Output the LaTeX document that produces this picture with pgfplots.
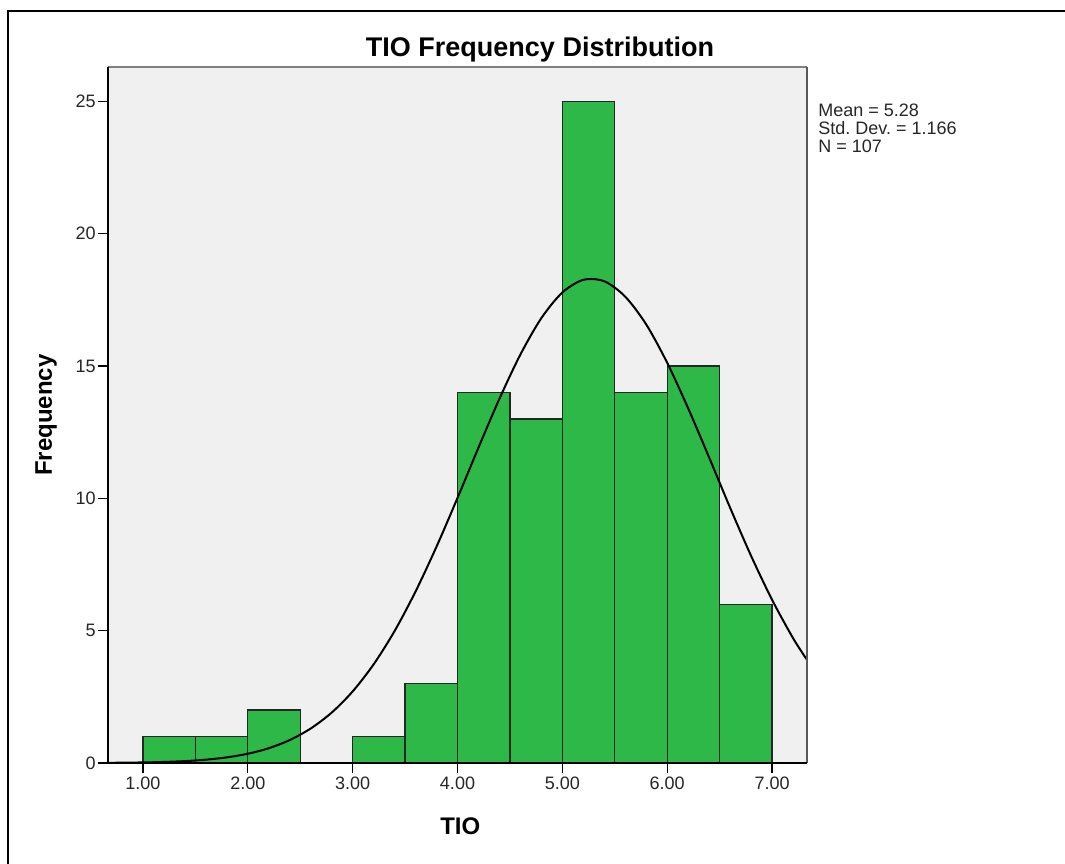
\documentclass[border=0pt]{standalone}
\usepackage{fontspec}
\setmainfont{Liberation Sans}
\usepackage{pgfplots}
\pgfplotsset{compat=1.18}
\definecolor{barfill}{RGB}{46,184,72}
\definecolor{plotbg}{RGB}{240,240,240}
\frenchspacing

\begin{document}
\begin{tikzpicture}
% page = 1065 x 863 px, 1 px = 0.5 pt
\useasboundingbox (0,0) rectangle (532.5pt,-431.5pt);
\draw[line width=1pt] (4pt,-432pt) -- (4pt,-5.5pt) -- (533pt,-5.5pt);
\begin{axis}[
  at={(54pt,-381.5pt)},anchor=south west,
  scale only axis,width=349.5pt,height=348pt,
  xmin=0.667,xmax=7.333,ymin=0,ymax=26.3,
  axis background/.style={fill=plotbg},
  axis line style={draw=none},
  clip=false,
  xtick={1,2,...,7},ytick={0,5,...,25},
  xtick pos=bottom,ytick pos=left,
  tick align=outside,major tick length=5pt,
  tick style={black,line width=0.7pt},
  xticklabel={\pgfmathprintnumber[fixed,fixed zerofill,precision=2]{\tick}},
  /pgf/number format/assume math mode=true,
  tick label style={font=\fontsize{9}{10}\selectfont,text=black!85},
  xticklabel style={inner sep=1pt,yshift=-1pt},
  yticklabel style={inner sep=1pt},
  every axis title shift=0pt,
  title={TIO Frequency Distribution},
  title style={font=\bfseries\fontsize{13.5}{15}\selectfont,
    at={(axis description cs:0.618,1.0144)},anchor=base},
  xlabel={TIO},
  xlabel style={font=\bfseries\fontsize{12}{14}\selectfont,
    at={(axis description cs:0.504,-0.0905)},anchor=center},
  ylabel={Frequency},
  ylabel style={font=\bfseries\fontsize{12}{14}\selectfont,
    at={(axis description cs:-0.0887,0.5)},anchor=center},
]
% histogram, bins of width 0.5
\addplot[ybar,bar width=0.5,bar shift=0pt,fill=barfill,draw=black!85,line width=0.65pt]
 coordinates {(1.25,1) (1.75,1) (2.25,2) (3.25,1) (3.75,3) (4.25,14)
  (4.75,13) (5.25,25) (5.75,14) (6.25,15) (6.75,6)};
% normal curve (mean 5.28, sd 1.166)
\addplot[smooth,black,line width=1pt] coordinates {
 (0.667,0.007) (1.0,0.022) (1.2,0.040) (1.4,0.072) (1.6,0.126) (1.8,0.213)
 (2.0,0.350) (2.2,0.559) (2.4,0.867) (2.6,1.304) (2.8,1.905) (3.0,2.704)
 (3.2,3.728) (3.4,4.987) (3.6,6.482) (3.8,8.177) (4.0,10.017) (4.2,11.917)
 (4.4,13.765) (4.6,15.438) (4.8,16.814) (5.0,17.78) (5.2,18.258)
 (5.4,18.203) (5.6,17.62) (5.8,16.57) (6.0,15.12) (6.2,13.40) (6.4,11.54)
 (6.6,9.643) (6.8,7.825) (7.0,6.166) (7.2,4.717) (7.333,3.90)};
\draw[black!50,line width=1pt] (rel axis cs:0,1) -- (rel axis cs:1,1);
\draw[black!65,line width=0.6pt] (rel axis cs:1,0) -- (rel axis cs:1,1);
\draw[black,line width=0.7pt] (rel axis cs:0,1) -- (rel axis cs:0,0) -- (rel axis cs:1,0);
\end{axis}
\node[anchor=north west,inner sep=0pt,align=left,text=black!85,
  font=\fontsize{9}{9}\selectfont] at (409pt,-52pt)
  {Mean = 5.28\\Std. Dev. = 1.166\\N = 107};
\end{tikzpicture}
\end{document}
